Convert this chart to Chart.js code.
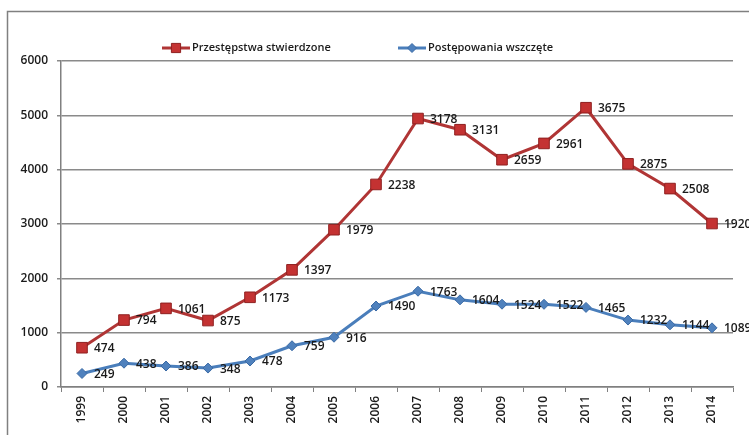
<!DOCTYPE html>
<html>
<head>
<meta charset="utf-8">
<script src="https://cdn.jsdelivr.net/npm/chart.js@4"></script>
<style>
  html, body { margin: 0; padding: 0; background: #fff; }
  #wrap { position: relative; width: 749px; height: 435px; }
</style>
</head>
<body>
<div id="wrap"><canvas id="chart" width="749" height="435"></canvas></div>
<script>
// lata
const years = ["1999","2000","2001","2002","2003","2004","2005","2006","2007","2008","2009","2010","2011","2012","2013","2014"];
// przestępstwa stwierdzone (stacked above the blue series)
const stwierdzone = [474, 794, 1061, 875, 1173, 1397, 1979, 2238, 3178, 3131, 2659, 2961, 3675, 2875, 2508, 1920];
// postępowania wszczęte
const wszczete = [249, 438, 386, 348, 478, 759, 916, 1490, 1763, 1604, 1524, 1522, 1465, 1232, 1144, 1089];
const yTicks = [0, 1000, 2000, 3000, 4000, 5000, 6000];

const RED = "#c43232", RED_LINE = "#b03535", RED_EDGE = "#8f2020";
const BLUE = "#4f81bd", BLUE_LINE = "#4a7ebb", BLUE_EDGE = "#3a6aa5";
const FONT = "'Open Sans', sans-serif";

// ramka + legenda + etykiety wartości
const extras = {
  id: "extras",
  beforeDraw(chart) {
    const ctx = chart.ctx;
    ctx.save();
    ctx.strokeStyle = "#808080";
    ctx.lineWidth = 1.5;
    ctx.beginPath();
    ctx.moveTo(7.5, 440);
    ctx.lineTo(7.5, 11.5);
    ctx.lineTo(760, 11.5);
    ctx.stroke();
    ctx.restore();
  },
  afterDatasetsDraw(chart) {
    const ctx = chart.ctx;
    ctx.save();
    ctx.font = "600 12px " + FONT;
    ctx.fillStyle = "#1a1a1a";
    ctx.textAlign = "left";
    ctx.textBaseline = "middle";
    chart.data.datasets.forEach((ds, i) => {
      chart.getDatasetMeta(i).data.forEach((pt, j) => {
        ctx.fillText(String(ds.data[j]), pt.x + 12, pt.y + 1);
      });
    });
    ctx.restore();
  },
  afterDraw(chart) {
    const ctx = chart.ctx;
    const items = [
      { x: 162, text: "Przestępstwa stwierdzone", line: RED_LINE, fill: RED, edge: RED_EDGE, style: "rect" },
      { x: 398, text: "Postępowania wszczęte", line: BLUE_LINE, fill: BLUE, edge: BLUE_EDGE, style: "rectRot" }
    ];
    const y = 48;
    ctx.save();
    items.forEach(it => {
      ctx.strokeStyle = it.line;
      ctx.lineWidth = 3;
      ctx.beginPath();
      ctx.moveTo(it.x, y);
      ctx.lineTo(it.x + 28, y);
      ctx.stroke();
      ctx.fillStyle = it.fill;
      ctx.strokeStyle = it.edge;
      ctx.lineWidth = 1;
      Chart.helpers.drawPoint(ctx, { pointStyle: it.style, radius: it.style === "rect" ? 6.5 : 4.5, rotation: 0, borderWidth: 1 }, it.x + 14, y);
      ctx.fillStyle = "#1a1a1a";
      ctx.font = "600 11px " + FONT;
      ctx.textAlign = "left";
      ctx.textBaseline = "middle";
      ctx.fillText(it.text, it.x + 30, y);
    });
    ctx.restore();
  }
};

new Chart(document.getElementById("chart"), {
  type: "line",
  data: {
    labels: years,
    datasets: [
      {
        label: "Postępowania wszczęte",
        data: wszczete,
        borderColor: BLUE_LINE,
        backgroundColor: BLUE,
        pointBackgroundColor: BLUE,
        pointBorderColor: BLUE_EDGE,
        pointStyle: "rectRot",
        pointRadius: 5,
        pointBorderWidth: 1,
        borderWidth: 3,
        tension: 0,
        fill: false
      },
      {
        label: "Przestępstwa stwierdzone",
        data: stwierdzone,
        borderColor: RED_LINE,
        backgroundColor: RED,
        pointBackgroundColor: RED,
        pointBorderColor: RED_EDGE,
        pointStyle: "rect",
        pointRadius: 7.5,
        pointBorderWidth: 1,
        borderWidth: 3,
        tension: 0,
        fill: false
      }
    ]
  },
  options: {
    responsive: false,
    animation: false,
    layout: { padding: { left: 0, top: 61, right: 16, bottom: 0 } },
    plugins: {
      legend: { display: false },
      tooltip: { enabled: false }
    },
    scales: {
      x: {
        offset: true,
        grid: { offset: true, drawOnChartArea: false, drawTicks: true, tickLength: 5, color: "#808080" },
        border: { color: "#808080", width: 1.5 },
        ticks: {
          minRotation: 90, maxRotation: 90, padding: 4,
          color: "#1a1a1a",
          font: { family: FONT, size: 12, weight: "600" }
        },
        afterFit(s) { s.height = 48; }
      },
      y: {
        stacked: true,
        min: 0,
        max: 6000,
        afterBuildTicks(s) { s.ticks = yTicks.map(v => ({ value: v })); },
        grid: { color: "#8a8a8a", lineWidth: 1.5, tickLength: 4 },
        border: { color: "#808080", width: 1.5 },
        ticks: {
          padding: 9,
          color: "#1a1a1a",
          font: { family: FONT, size: 12, weight: "600" },
          callback: v => String(v)
        },
        afterFit(s) { s.width = 61; }
      }
    }
  },
  plugins: [extras]
});
</script>
</body>
</html>
